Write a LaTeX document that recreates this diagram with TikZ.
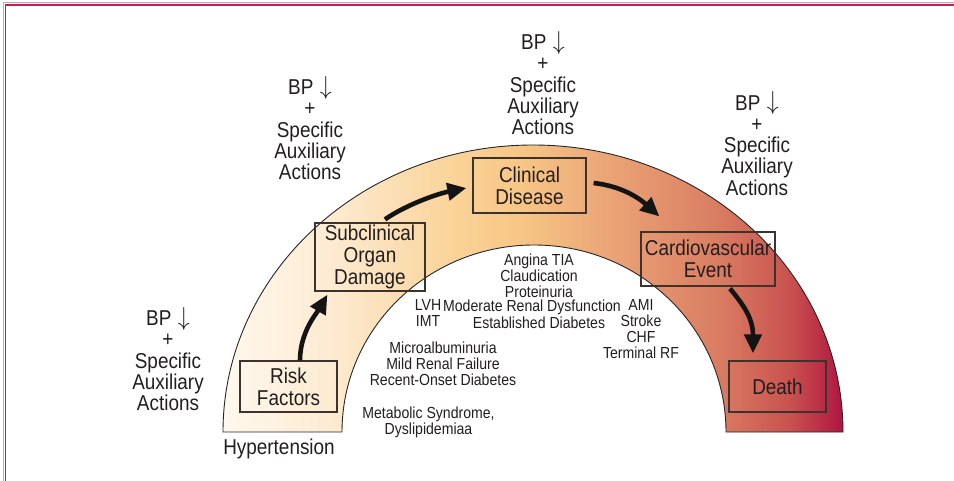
\documentclass[tikz,border=0pt]{standalone}
\usepackage{fontspec}
\setmainfont{Liberation Sans}[FakeStretch=0.88]
\usetikzlibrary{arrows.meta}
\definecolor{txt}{HTML}{221E1F}
\definecolor{boxc}{HTML}{3C3230}
\definecolor{frame}{HTML}{C61E4E}
\definecolor{aa}{HTML}{FFF8EE}
\definecolor{ab}{HTML}{FDEBD2}
\definecolor{ac}{HTML}{FAD49A}
\definecolor{ad}{HTML}{F7C685}
\definecolor{ae}{HTML}{E9A074}
\definecolor{af}{HTML}{D97C62}
\definecolor{ag}{HTML}{C9524F}
\definecolor{ah}{HTML}{B01540}
\pgfdeclarehorizontalshading{archshade}{100bp}{color(0bp)=(aa); color(25bp)=(aa); color(33.6bp)=(ab); color(43.3bp)=(ac); color(49bp)=(ad); color(57bp)=(ae); color(65bp)=(af); color(70.7bp)=(ag); color(75bp)=(ah); color(100bp)=(ah)}
\newcommand{\bpdown}{BP\hspace{0.3em}\raisebox{0.5pt}{\scalebox{1.15}[1.25]{$\downarrow$}}}
\begin{document}
\begin{tikzpicture}[x=1pt,y=-1pt,
  big/.style={font=\fontsize{21.5}{21.3}\selectfont, align=center, text=txt, inner sep=0pt},
  small/.style={font=\fontsize{16}{15.8}\selectfont, align=center, text=txt, inner sep=0pt},
  stagebox/.style={draw=boxc, line width=1.2pt, inner sep=0pt, font=\fontsize{21.5}{21.7}\selectfont, align=center, text=txt},
  flow/.style={line width=4.6pt, draw=black!92, -{Triangle[length=19pt,width=17pt]}}]
\useasboundingbox (0,0) rectangle (954,481);
% frame
\draw[frame!45, line width=1pt] (3.5,481) -- (3.5,3) -- (954,3);
\draw[frame, line width=1.8pt] (5.5,481) -- (5.5,4.8) -- (954,4.8);
% arch
\shadedraw[shading=archshade, draw=black!85, line width=0.9pt]
  (223,432) arc[start angle=180, end angle=360, x radius=310, y radius=287]
  -- (726,432) arc[start angle=360, end angle=180, x radius=192, y radius=187] -- cycle;
% stage boxes
\node[stagebox, minimum width=97pt, minimum height=51pt] (risk) at (288.5,386.5) {Risk\\Factors};
\node[stagebox, minimum width=110pt, minimum height=68pt] (subc) at (370,257) {Subclinical\\Organ\\Damage};
\node[stagebox, minimum width=113pt, minimum height=55pt] (clin) at (529.5,185.5) {Clinical\\Disease};
\node[stagebox, minimum width=134pt, minimum height=54pt] (cve) at (708,259) {Cardiovascular\\Event};
\node[stagebox, minimum width=97pt, minimum height=51pt] (death) at (777.5,386.5) {Death};
% arrows
\draw[flow] ([shift={(11.5,0)}]risk.north) .. controls +(0,-28) and +(-11,19) .. ([shift={(13,3)}]subc.south west);
\draw[flow] ([shift={(15,-3)}]subc.north) .. controls +(20,-14) and +(-30,6) .. ([shift={(-6,2.5)}]clin.west);
\draw[flow] ([shift={(7,-2.5)}]clin.east) .. controls +(28,3) and +(-20,-18) .. ([shift={(19,-15)}]cve.north west);
\draw[flow] ([shift={(22,2)}]cve.south) .. controls +(14,17) and +(0,-35) .. ([shift={(-24.5,-7)}]death.north);
% BP texts
\node[big] (bp1) at (168,359) {\bpdown\\+\\Specific\\Auxiliary\\Actions};
\node[big] (bp2) at (310,128) {\bpdown\\+\\Specific\\Auxiliary\\Actions};
\node[big] (bp3) at (543,83) {\bpdown\\+\\Specific\\Auxiliary\\Actions};
\node[big] (bp4) at (757,143.5) {\bpdown\\+\\Specific\\Auxiliary\\Actions};
\node[big] (hyp) at (279,449) {Hypertension};
% small texts
\node[small] (ang) at (539,275.5) {Angina TIA\\Claudication\\Proteinuria};
\node[small] (mod) at (532,307) {Moderate Renal Dysfunction};
\node[small] (est) at (539,323) {Established Diabetes};
\node[small] (lvh) at (428,313) {LVH\\IMT};
\node[small] (ami) at (641,329) {AMI\\Stroke\\CHF\\Terminal RF};
\node[small] (micro) at (443,364) {Microalbuminuria\\Mild Renal Failure\\Recent-Onset Diabetes};
\node[small] (meta) at (428.5,422) {Metabolic Syndrome,\\Dyslipidemiaa};
\end{tikzpicture}
\end{document}
